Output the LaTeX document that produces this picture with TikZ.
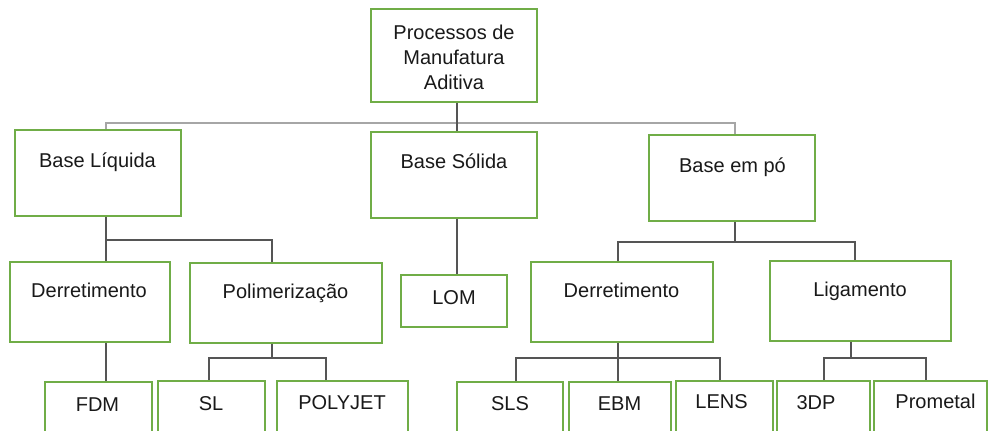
\documentclass[tikz,border=0pt]{standalone}
\usepackage{fontspec}
\setmainfont{Liberation Sans}
\definecolor{boxgreen}{HTML}{70AD47}
\definecolor{linkgray}{HTML}{555555}
\definecolor{busgray}{HTML}{A6A6A6}
\begin{document}
\begin{tikzpicture}[x=1pt,y=-1pt,
  box/.style={draw=boxgreen, line width=1.8pt, fill=white, inner sep=0pt},
  lbl/.style={font=\fontsize{20}{25}\selectfont, text=black!90, align=center, inner sep=0pt, anchor=base},
  link/.style={draw=linkgray, line width=1.9pt},
  bus/.style={draw=busgray, line width=2.6pt}]
\clip (0,0) rectangle (989,431);
\fill[white] (0,0) rectangle (989,431);

% junction points of the connector trees
\coordinate (jTop) at (457,123);
\coordinate (jLiq) at (106,240);
\coordinate (jPo)  at (735,242);
\coordinate (jPol) at (272,358);
\coordinate (jDer) at (618,358);
\coordinate (jLig) at (851,358);

% level 0
\node[box, minimum width=166pt, minimum height=93pt] (top) at (454,55.5) {};
% level 1
\node[box, minimum width=166pt, minimum height=86pt] (liq) at (98,173) {};
\node[box, minimum width=166pt, minimum height=86pt] (sol) at (454,175) {};
\node[box, minimum width=166pt, minimum height=86pt] (po)  at (732,178) {};
% level 2
\node[box, minimum width=160pt, minimum height=80pt] (derL) at (90,302) {};
\node[box, minimum width=192pt, minimum height=80pt] (pol)  at (286,303) {};
\node[box, minimum width=106pt, minimum height=52pt] (lom)  at (454,301) {};
\node[box, minimum width=182pt, minimum height=80pt] (derR) at (622,302) {};
\node[box, minimum width=181pt, minimum height=80pt] (lig)  at (860.5,301) {};
% level 3 (boxes run past the lower edge)
\node[box, minimum width=107pt, minimum height=100pt] (fdm)  at (98.5,432) {};
\node[box, minimum width=107pt, minimum height=100pt] (sl)   at (211.5,431) {};
\node[box, minimum width=131pt, minimum height=100pt] (poly) at (342.5,431) {};
\node[box, minimum width=106pt, minimum height=100pt] (sls)  at (510,432) {};
\node[box, minimum width=102pt, minimum height=100pt] (ebm)  at (620,432) {};
\node[box, minimum width=97pt,  minimum height=100pt] (lens) at (724.5,431) {};
\node[box, minimum width=93pt,  minimum height=100pt] (tdp)  at (823.5,431) {};
\node[box, minimum width=113pt, minimum height=100pt] (prom) at (930.5,431) {};

% labels (a multi-line label sits on the baseline of its last line)
\node[lbl] (top-t)  at (454,89)  {Processos de\\Manufatura\\Aditiva};
\node[lbl] (liq-t)  at (97.5,167) {Base Líquida};
\node[lbl] (sol-t)  at (454,168) {Base Sólida};
\node[lbl] (po-t)   at (732.5,172) {Base em pó};
\node[lbl] (derL-t) at (89,297)  {Derretimento};
\node[lbl] (pol-t)  at (285.5,298) {Polimerização};
\node[lbl] (lom-t)  at (454,304) {LOM};
\node[lbl] (derR-t) at (621.5,297) {Derretimento};
\node[lbl] (lig-t)  at (860,296) {Ligamento};
\node[lbl] (fdm-t)  at (97.5,411) {FDM};
\node[lbl] (sl-t)   at (211,410) {SL};
\node[lbl] (poly-t) at (342,409) {POLYJET};
\node[lbl] (sls-t)  at (510,410) {SLS};
\node[lbl] (ebm-t)  at (619.5,410) {EBM};
\node[lbl] (lens-t) at (721.5,408) {LENS};
\node[lbl] (tdp-t)  at (816,409) {3DP};
\node[lbl] (prom-t) at (935.5,408) {Prometal};

% level 0 -> level 1
\draw[bus] (liq.north -| jLiq) |- (jTop) -| (po.north -| jPo);
\draw[link] (top.south -| jTop) -- (sol.north -| jTop);

% Base Líquida
\draw[link] (liq.south -| jLiq) -- (derL.north -| jLiq);
\draw[link] (jLiq) -| (pol.north -| jPol);
% Base Sólida
\draw[link] (sol.south -| jTop) -- (lom.north -| jTop);
% Base em pó
\draw[link] (po.south -| jPo) -- (jPo);
\draw[link] (derR.north -| jDer) |- (jPo) -| ([xshift=4pt]lig.north -| jLig);

% Polimerização
\draw[link] (pol.south -| jPol) -- (jPol);
\draw[link] (sl.north -| 209,0) |- (jPol) -| (poly.north -| 326,0);
% Derretimento (left)
\draw[link] (derL.south -| jLiq) -- (fdm.north -| jLiq);
% Derretimento (right)
\draw[link] (derR.south -| jDer) -- (ebm.north -| jDer);
\draw[link] (sls.north -| 516,0) |- (jDer) -| (lens.north -| 720,0);
% Ligamento
\draw[link] (lig.south -| jLig) -- (jLig);
\draw[link] (tdp.north -| 824,0) |- (jLig) -| (prom.north -| 926,0);
\end{tikzpicture}
\end{document}
